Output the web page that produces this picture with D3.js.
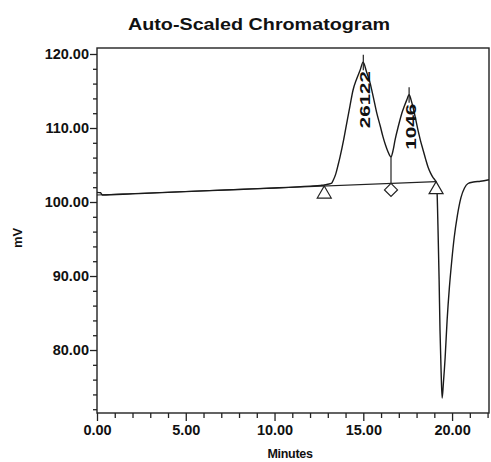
<!DOCTYPE html>
<html>
<head>
<meta charset="utf-8">
<script src="https://cdn.jsdelivr.net/npm/d3@7/dist/d3.min.js"></script>
<style>
  html, body { margin: 0; padding: 0; background: #fff; }
  svg { display: block; }
  text { font-family: "Liberation Sans", Arial, sans-serif; fill: #111; }
</style>
</head>
<body>
<svg id="chart" width="491" height="462"></svg>
<script>
// Detector trace: retention time (min) and signal (mV)
const traceTime = [0, 0.2, 0.3, 2, 4, 6, 8, 10, 12, 12.6, 12.8, 13.0, 13.22, 13.3, 13.45, 13.58, 13.69,
  13.9, 14.07, 14.25, 14.42, 14.62, 14.82, 14.99, 15.18, 15.38, 15.57, 15.76, 15.95, 16.11, 16.25, 16.39, 16.56,
  16.68, 16.79, 16.98, 17.17, 17.32, 17.45, 17.58, 17.69, 17.80, 17.94, 18.08, 18.22, 18.37, 18.51, 18.65,
  18.79, 18.93, 19.04, 19.10, 19.15, 19.21, 19.27, 19.32, 19.38, 19.44, 19.51, 19.61, 19.72, 19.85, 19.98,
  20.12, 20.30, 20.50, 20.70, 20.90, 21.20, 21.60, 22.08];
const traceMv = [101.3, 101.25, 100.95, 101.1, 101.3, 101.5, 101.7, 101.9, 102.15, 102.25, 102.3, 102.4, 102.55, 102.9, 103.8, 105.0, 106.1,
  108.5, 110.7, 113.0, 115.1, 116.6, 117.8, 118.9, 117.6, 116.1, 114.1, 112.0, 110.3, 108.8, 107.7, 106.8, 106.1,
  107.0, 108.4, 110.3, 112.0, 113.0, 113.8, 114.5, 113.8, 112.8, 111.3, 109.7, 108.3, 107.0, 105.8, 104.7,
  103.9, 103.3, 102.95, 102.7, 101.6, 96.2, 89.5, 82.7, 77.3, 73.5, 75.5, 79.0, 84.0, 88.5, 92.0,
  95.2, 98.2, 100.6, 101.9, 102.5, 102.7, 102.8, 103.0];

// Integration baseline drawn under the peaks
const baselineTime = [0, 19.1];
const baselineMv = [100.95, 102.75];

// Integration event markers on the baseline
const markerTime = [12.8, 16.56, 19.1];
const markerShape = ["triangle", "diamond", "triangle"];

// Peak apexes and their labels
const peakTime = [15.0, 17.58];
const peakApexMv = [118.9, 114.5];
const peakTickTopMv = [119.9, 115.5];
const peakLabel = ["26122", "1046"];
const valleyTime = 16.56;
const valleyMv = 106.1;

// Axis ticks
const xMajorTicks = [0, 5, 10, 15, 20];
const xMinorTicks = [1, 2, 3, 4, 6, 7, 8, 9, 11, 12, 13, 14, 16, 17, 18, 19, 21, 22];
const yMajorTicks = [80, 90, 100, 110, 120];
const yMinorTicks = [72, 74, 76, 78, 82, 84, 86, 88, 92, 94, 96, 98, 102, 104, 106, 108, 112, 114, 116, 118];

const svg = d3.select("#chart");
const plotLeft = 97, plotRight = 489, plotTop = 48, plotBottom = 413;

const x = d3.scaleLinear().domain([0, 22.08]).range([plotLeft, plotRight]);
const y = d3.scaleLinear().domain([71.49, 120.81]).range([plotBottom, plotTop]);

const fmt = d3.format(".2f");

// Title
svg.append("text")
  .attr("x", 259).attr("y", 30)
  .attr("text-anchor", "middle")
  .attr("font-size", 17).attr("font-weight", 900)
  .attr("textLength", 262).attr("lengthAdjust", "spacingAndGlyphs")
  .text("Auto-Scaled Chromatogram");

// Plot frame
svg.append("rect")
  .attr("x", plotLeft).attr("y", plotTop)
  .attr("width", plotRight - plotLeft).attr("height", plotBottom - plotTop)
  .attr("fill", "none").attr("stroke", "#222").attr("stroke-width", 1.4);

// Axes
const xAxis = d3.axisBottom(x).tickValues(xMajorTicks).tickFormat(fmt).tickSize(8).tickPadding(4);
const xAxisMinor = d3.axisBottom(x).tickValues(xMinorTicks).tickFormat("").tickSize(5);
const yAxis = d3.axisLeft(y).tickValues(yMajorTicks).tickFormat(fmt).tickSize(7).tickPadding(1);
const yAxisMinor = d3.axisLeft(y).tickValues(yMinorTicks).tickFormat("").tickSize(4);

function styleAxis(g) {
  g.select(".domain").remove();
  g.selectAll("line").attr("stroke", "#222").attr("stroke-width", 1.3);
  g.selectAll("text")
    .attr("font-size", 14.5).attr("font-weight", "bold")
    .attr("fill", "#111")
    .style("font-family", "'Liberation Sans', Arial, sans-serif");
}

svg.append("g").attr("transform", `translate(0,${plotBottom})`).call(xAxisMinor).call(styleAxis);
svg.append("g").attr("transform", `translate(0,${plotBottom})`).call(xAxis).call(styleAxis);
svg.append("g").attr("transform", `translate(${plotLeft},0)`).call(yAxisMinor).call(styleAxis);
svg.append("g").attr("transform", `translate(${plotLeft},0)`).call(yAxis).call(styleAxis);

// Axis titles
svg.append("text")
  .attr("x", 290).attr("y", 458)
  .attr("text-anchor", "middle")
  .attr("font-size", 12.5).attr("font-weight", 900)
  .attr("letter-spacing", -0.3)
  .text("Minutes");

svg.append("text")
  .attr("transform", "translate(22,238) rotate(-90)")
  .attr("text-anchor", "middle")
  .attr("font-size", 13).attr("font-weight", "bold")
  .text("mV");

const plot = svg.append("g");

// Baseline
const baseLine = d3.line().x(d => x(d[0])).y(d => y(d[1]));
plot.append("path")
  .datum(d3.zip(baselineTime, baselineMv))
  .attr("d", baseLine)
  .attr("fill", "none").attr("stroke", "#222").attr("stroke-width", 1.2);

// Trace
const traceLine = d3.line().x(d => x(d[0])).y(d => y(d[1])).curve(d3.curveMonotoneX);
plot.append("path")
  .datum(d3.zip(traceTime, traceMv))
  .attr("d", traceLine)
  .attr("fill", "none").attr("stroke", "#1a1a1a").attr("stroke-width", 1.4)
  .attr("stroke-linejoin", "round");

// Drop line from valley to baseline
const baseAt = t => d3.scaleLinear().domain(baselineTime).range(baselineMv)(t);
plot.append("line")
  .attr("x1", x(valleyTime)).attr("x2", x(valleyTime))
  .attr("y1", y(valleyMv)).attr("y2", y(baseAt(valleyTime)))
  .attr("stroke", "#222").attr("stroke-width", 1.2);

// Peak apex ticks
peakTime.forEach((t, i) => {
  plot.append("line")
    .attr("x1", x(t)).attr("x2", x(t))
    .attr("y1", y(peakApexMv[i]) + 8).attr("y2", y(peakTickTopMv[i]))
    .attr("stroke", "#222").attr("stroke-width", 1.2);
});

// Peak labels, written vertically along the apex tick
const labelSpan = [57, 46];
peakTime.forEach((t, i) => {
  const px = x(t) + 1, py = y(peakApexMv[i]) + 9;
  plot.append("text")
    .attr("transform", `translate(${px},${py}) rotate(-90)`)
    .attr("text-anchor", "end")
    .attr("dominant-baseline", "central")
    .attr("font-size", 15).attr("font-weight", "bold")
    .attr("textLength", labelSpan[i]).attr("lengthAdjust", "spacingAndGlyphs")
    .text(peakLabel[i]);
});

// Event markers hanging below the baseline
markerTime.forEach((t, i) => {
  const mx = x(t), my = y(baseAt(t));
  let d;
  if (markerShape[i] === "triangle") {
    d = `M${mx},${my} L${mx + 7},${my + 12} L${mx - 7},${my + 12} Z`;
  } else {
    d = `M${mx},${my} L${mx + 6.5},${my + 6.5} L${mx},${my + 13} L${mx - 6.5},${my + 6.5} Z`;
  }
  plot.append("path")
    .attr("d", d)
    .attr("fill", "#fff").attr("stroke", "#222").attr("stroke-width", 1.2);
});
</script>
</body>
</html>
